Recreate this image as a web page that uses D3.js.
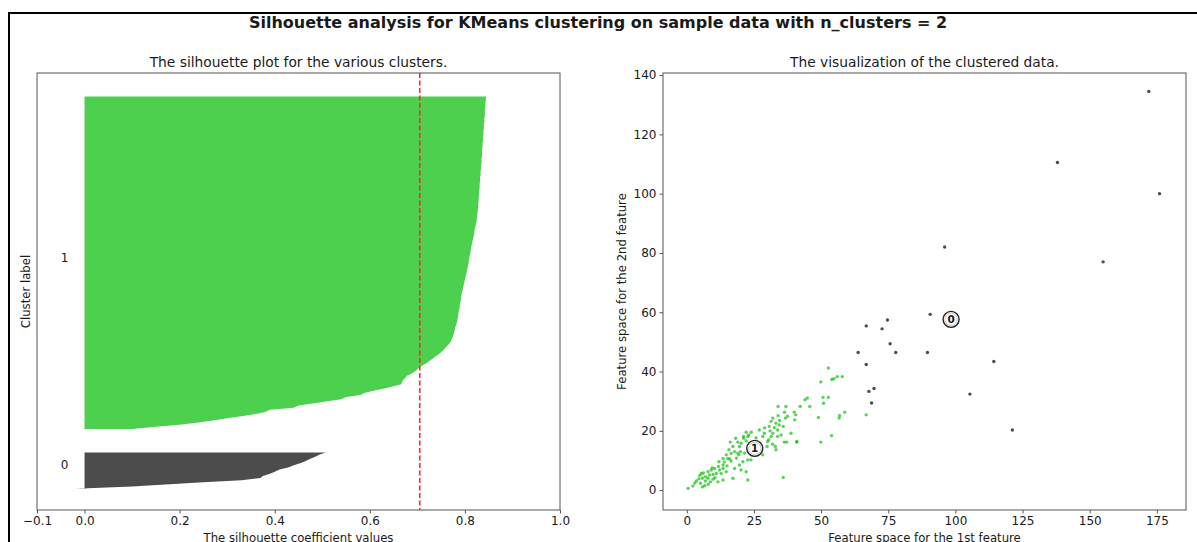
<!DOCTYPE html>
<html>
<head>
<meta charset="utf-8">
<script src="https://cdn.jsdelivr.net/npm/d3@7/dist/d3.min.js"></script>
<style>
    body { margin: 0; background: #fff; }
    svg text { font-family: "DejaVu Sans", sans-serif; fill: #1a1a1a; }
</style>
</head>
<body>
<svg id="chart" width="1197" height="542"></svg>
<script>
// silhouette values per sample, sorted ascending
const cluster0Sil = [-0.02, 0.10, 0.17, 0.25, 0.33, 0.37, 0.375, 0.39, 0.40, 0.41,
    0.43, 0.44, 0.455, 0.465, 0.475, 0.485, 0.495, 0.507];
const cluster1Sil = [0.10, 0.15, 0.20, 0.24, 0.27, 0.30, 0.33, 0.36, 0.38, 0.39,
    0.44, 0.45, 0.48, 0.51, 0.54, 0.55, 0.58, 0.59, 0.61, 0.63,
    0.65, 0.666, 0.668, 0.670, 0.675, 0.678, 0.688, 0.695, 0.700, 0.705,
    0.712, 0.720, 0.726, 0.732, 0.738, 0.744, 0.750, 0.755, 0.759, 0.763,
    0.767, 0.770, 0.772, 0.774,
    0.776, 0.777, 0.778, 0.779, 0.780, 0.782, 0.783, 0.784,
    0.785, 0.786, 0.786, 0.787, 0.788, 0.789, 0.789, 0.790, 0.791, 0.792, 0.792, 0.793, 0.794,
    0.795, 0.796, 0.797, 0.798, 0.799, 0.800, 0.801, 0.802, 0.803, 0.804, 0.805, 0.806,
    0.807, 0.808, 0.808, 0.809, 0.810, 0.811, 0.812, 0.812, 0.813, 0.814, 0.815, 0.816, 0.817,
    0.818, 0.819, 0.820, 0.820, 0.821, 0.822, 0.823, 0.824, 0.825,
    0.825, 0.826, 0.826, 0.827, 0.827, 0.828, 0.828, 0.828, 0.829, 0.829,
    0.829, 0.830, 0.830, 0.830, 0.831, 0.831, 0.831, 0.832, 0.832,
    0.832, 0.833, 0.833, 0.833, 0.834, 0.834, 0.834, 0.835, 0.835, 0.835,
    0.836, 0.836, 0.836, 0.836, 0.837, 0.837, 0.837, 0.838, 0.838, 0.838,
    0.839, 0.839, 0.839, 0.840, 0.840, 0.840, 0.841, 0.841, 0.841, 0.842,
    0.842, 0.842, 0.842, 0.843, 0.843, 0.843, 0.844, 0.844, 0.845];
const silhouetteAvg = 0.705;
const silTicks = [-0.1, 0, 0.2, 0.4, 0.6, 0.8, 1.0];

// scatter points [feature 1, feature 2]
const cluster0Points = [[172, 134.5], [138, 110.5], [176, 100], [96, 82], [155, 77],
    [90.6, 59.3], [74.7, 57.4], [66.8, 55.4], [72.7, 54.4], [75.7, 49.4],
    [63.8, 46.4], [77.8, 46.4], [89.6, 46.4], [66.8, 42.4], [114.3, 43.4],
    [67.8, 33.3], [69.7, 34.3], [68.8, 29.4], [105.4, 32.4], [121.2, 20.3]];
const cluster1Points = [[0.5, 0.6], [2.3, 1.4], [3.0, 2.4], [3.6, 3.1], [4.5, 3.8], [5.1, 2.3], [6.7, 1.5], [5.8, 1.1],
    [4.8, 4.9], [5.4, 5.6], [5.8, 4.0], [6.2, 5.8], [7.0, 4.5], [6.9, 3.1], [7.9, 4.0], [7.9, 6.2],
    [8.0, 2.0], [8.5, 5.1], [8.8, 2.8], [9.1, 6.8], [9.5, 7.5], [9.8, 5.3], [9.8, 3.7], [10.4, 7.3],
    [10.5, 4.2], [11.0, 5.6], [11.6, 2.8], [11.8, 8.0], [12.0, 9.6], [12.2, 6.8], [12.8, 5.6], [13.5, 3.4],
    [13.5, 7.3], [13.5, 8.5], [13.5, 10.7], [14.0, 9.5], [14.7, 6.2], [14.7, 11.9], [15.0, 8.2], [15.3, 10.7],
    [15.7, 13.6], [16.0, 10.5], [16.2, 16.2], [16.5, 12.4], [16.5, 9.8], [17.2, 14.7], [17.2, 4.0], [17.8, 13.0],
    [17.8, 7.3], [18.2, 17.5], [18.5, 10.8], [19.0, 16.2], [19.0, 12.5], [19.4, 11.9], [19.6, 14.7], [19.6, 8.5],
    [20.0, 13.0], [20.2, 15.8], [20.2, 6.8], [20.9, 9.6], [21.1, 18.1], [21.2, 17.5], [21.5, 12.5], [22.1, 16.6],
    [22.1, 19.5], [22.1, 6.2], [22.7, 18.1], [22.7, 10.2], [22.7, 3.4], [23.1, 18.6], [23.9, 10.2], [24.0, 19.5],
    [24.5, 12.0], [25.8, 17.7], [26.0, 16.5], [26.5, 13.5], [27.0, 20.3], [27.3, 14.7], [28.3, 18.1], [28.3, 11.9],
    [28.9, 19.2], [29.0, 21.0], [29.9, 14.7], [30.1, 16.4], [30.5, 17.0], [30.7, 21.5], [31.0, 20.0], [31.4, 23.2],
    [31.4, 18.1], [32.0, 24.3], [32.0, 19.2], [32.0, 15.5], [32.6, 21.1], [33.0, 14.7], [33.2, 22.6], [33.2, 13.6],
    [33.8, 18.1], [33.8, 20.3], [34.0, 28.2], [34.0, 25.1], [34.4, 22.0], [34.5, 23.5], [35.1, 18.6], [35.9, 21.5],
    [35.9, 4.3], [36.3, 16.2], [36.4, 26.3], [36.7, 24.3], [36.9, 28.2], [37.2, 16.2], [37.5, 24.9], [38.8, 19.2],
    [40.0, 26.3], [40.2, 23.7], [40.6, 25.4], [40.9, 16.2], [41.0, 16.4], [42.2, 28.2], [44.0, 30.5], [44.9, 31.1],
    [45.8, 28.2], [49.0, 24.5], [49.9, 36.5], [49.9, 16.2], [50.7, 31.3], [50.9, 29.3], [52.7, 31.3], [52.7, 41.2],
    [53.9, 18.4], [54.0, 37.3], [54.8, 37.6], [56.0, 38.3], [56.7, 24.3], [56.9, 25.2], [57.9, 38.3], [58.8, 26.3],
    [66.8, 25.4]];
const centers = [[98.4, 57.6], [25.3, 14.1]];
const xTicks = [0, 25, 50, 75, 100, 125, 150, 175];
const yTicks = [0, 20, 40, 60, 80, 100, 120, 140];

const clusterColors = ['rgba(0,0,0,0.7)', 'rgba(0,187,0,0.65)'];
const fillColors = ['#4c4c4c', '#4dd04d'];

const svg = d3.select('#chart');

// outer frame of the screenshot
svg.append('rect')
    .attr('x', 9).attr('y', 13)
    .attr('width', 1300).attr('height', 600)
    .attr('fill', 'none').attr('stroke', '#000').attr('stroke-width', 2);

svg.append('text')
    .attr('x', 598).attr('y', 28)
    .attr('text-anchor', 'middle')
    .attr('font-size', '16px').attr('font-weight', 'bold')
    .text('Silhouette analysis for KMeans clustering on sample data with n_clusters = 2');

const plotTop = 73, plotBottom = 510;

// ---------- left: silhouette plot ----------
const L = { left: 37, right: 560 };
const nTotal = cluster0Sil.length + cluster1Sil.length;
const xSil = d3.scaleLinear().domain([-0.1, 1]).range([L.left, L.right]);
const ySil = d3.scaleLinear().domain([0, nTotal + 30]).range([plotBottom, plotTop]);

const leftG = svg.append('g');

let yLower = 10;
[cluster0Sil, cluster1Sil].forEach((vals, i) => {
    const base = yLower;
    const area = d3.area()
        .y((d, j) => ySil(base + j))
        .x0(xSil(0))
        .x1(d => xSil(d));
    leftG.append('path')
        .datum(vals)
        .attr('d', area)
        .attr('fill', fillColors[i]);
    leftG.append('text')
        .attr('x', xSil(-0.05)).attr('y', ySil(base + 0.5 * vals.length))
        .attr('font-size', '12px')
        .text(i);
    yLower = base + vals.length + 10;
});

leftG.append('line')
    .attr('x1', xSil(silhouetteAvg)).attr('x2', xSil(silhouetteAvg))
    .attr('y1', plotTop).attr('y2', plotBottom)
    .attr('stroke', '#ff2a2a').attr('stroke-width', 1.6)
    .attr('stroke-dasharray', '5,2.5');

leftG.append('rect')
    .attr('x', L.left).attr('y', plotTop)
    .attr('width', L.right - L.left).attr('height', plotBottom - plotTop)
    .attr('fill', 'none').attr('stroke', '#555').attr('stroke-width', 1);

const silAxis = leftG.append('g')
    .attr('transform', `translate(0,${plotBottom})`)
    .call(d3.axisBottom(xSil).tickValues(silTicks).tickSize(3.5).tickPadding(3)
        .tickFormat(d => d3.format('.1f')(d).replace('-', '\u2212')));

leftG.append('text')
    .attr('x', (L.left + L.right) / 2).attr('y', 67)
    .attr('text-anchor', 'middle').attr('font-size', '13.8px')
    .text('The silhouette plot for the various clusters.');
leftG.append('text')
    .attr('x', (L.left + L.right) / 2).attr('y', 542)
    .attr('text-anchor', 'middle').attr('font-size', '11.7px')
    .text('The silhouette coefficient values');
leftG.append('text')
    .attr('transform', `translate(30,${(plotTop + plotBottom) / 2}) rotate(-90)`)
    .attr('text-anchor', 'middle').attr('font-size', '11.7px')
    .text('Cluster label');

// ---------- right: scatter of clustered data ----------
const R = { left: 663, right: 1186 };
const xSc = d3.scaleLinear().domain([-8.85, 185.85]).range([R.left, R.right]);
const ySc = d3.scaleLinear().domain([-6.7, 140.7]).range([plotBottom, plotTop]);

const rightG = svg.append('g');

[cluster0Points, cluster1Points].forEach((pts, i) => {
    rightG.append('g')
        .selectAll('circle')
        .data(pts)
        .enter()
        .append('circle')
        .attr('cx', d => xSc(d[0]))
        .attr('cy', d => ySc(d[1]))
        .attr('r', 1.7)
        .attr('fill', clusterColors[i]);
});

const centerG = rightG.append('g')
    .selectAll('g')
    .data(centers)
    .enter()
    .append('g')
    .attr('transform', d => `translate(${xSc(d[0])},${ySc(d[1])})`);
centerG.append('circle')
    .attr('r', 8)
    .attr('fill', '#fff')
    .attr('stroke', '#222').attr('stroke-width', 1.4);
centerG.append('circle')
    .attr('r', 6.2)
    .attr('fill', 'none')
    .attr('stroke', '#bbb').attr('stroke-width', 0.8);
centerG.append('text')
    .attr('text-anchor', 'middle').attr('dy', '0.36em')
    .attr('font-size', '10.5px').attr('font-weight', 'bold')
    .text((d, i) => i);

rightG.append('rect')
    .attr('x', R.left).attr('y', plotTop)
    .attr('width', R.right - R.left).attr('height', plotBottom - plotTop)
    .attr('fill', 'none').attr('stroke', '#555').attr('stroke-width', 1);

const xAx = rightG.append('g')
    .attr('transform', `translate(0,${plotBottom})`)
    .call(d3.axisBottom(xSc).tickValues(xTicks).tickSize(3.5).tickPadding(3));
const yAx = rightG.append('g')
    .attr('transform', `translate(${R.left},0)`)
    .call(d3.axisLeft(ySc).tickValues(yTicks).tickSize(3.5).tickPadding(3));

rightG.append('text')
    .attr('x', (R.left + R.right) / 2).attr('y', 67)
    .attr('text-anchor', 'middle').attr('font-size', '13.8px')
    .text('The visualization of the clustered data.');
rightG.append('text')
    .attr('x', (R.left + R.right) / 2).attr('y', 542)
    .attr('text-anchor', 'middle').attr('font-size', '11.7px')
    .text('Feature space for the 1st feature');
rightG.append('text')
    .attr('transform', `translate(626,${(plotTop + plotBottom) / 2}) rotate(-90)`)
    .attr('text-anchor', 'middle').attr('font-size', '11.7px')
    .text('Feature space for the 2nd feature');

// axis styling like matplotlib
[silAxis, xAx, yAx].forEach(ax => {
    ax.select('.domain').remove();
    ax.selectAll('.tick line').attr('stroke', '#555');
    ax.selectAll('.tick text')
        .attr('font-size', '12px')
        .attr('font-family', '"DejaVu Sans", sans-serif')
        .attr('fill', '#1a1a1a');
});
</script>
</body>
</html>
